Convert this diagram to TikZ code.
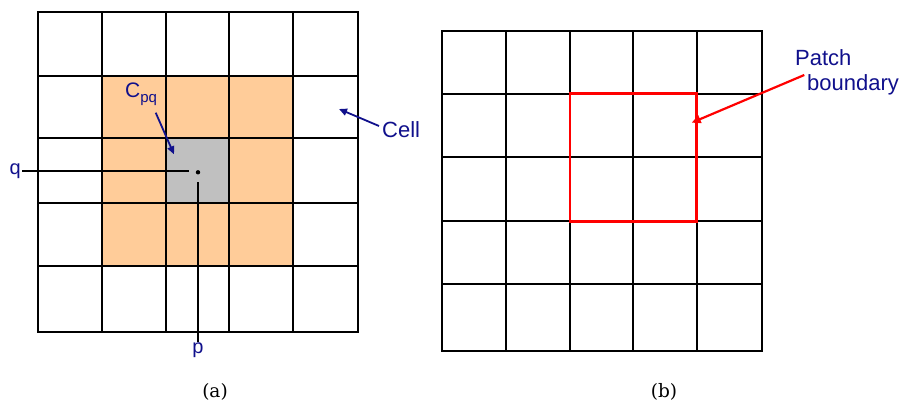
\documentclass[tikz,border=0pt]{standalone}
\usepackage{fontspec}
\newfontfamily\labfont{Liberation Sans}
\newfontfamily\capfont{DejaVu Serif}
\usetikzlibrary{arrows.meta}
\definecolor{cellorange}{RGB}{255,204,153}
\definecolor{cellgray}{RGB}{192,192,192}
\definecolor{labblue}{RGB}{16,16,140}
\definecolor{patchred}{RGB}{255,0,0}
\tikzset{
  gridline/.style={black, line width=2pt, line cap=rect},
  bluelab/.style={text=labblue, font=\labfont\fontsize{22}{24}\selectfont, inner sep=1pt},
  pqlab/.style={text=labblue, font=\labfont\fontsize{20}{22}\selectfont, inner sep=1pt},
  bluearrow/.style={draw=labblue, line width=1.8pt, -{Triangle[length=8pt,width=7pt]}},
  redarrow/.style={draw=patchred, line width=2.2pt, -{Triangle[length=9pt,width=8pt]}},
  thinline/.style={black, line width=1.8pt},
  captext/.style={inner sep=0pt}
}
\begin{document}
\begin{tikzpicture}[x=1pt,y=-1pt]
\useasboundingbox (0,0) rectangle (903,403);
% ---------- (a) ----------
\fill[cellorange] (101.7,75.7) rectangle (293,265.7);
\fill[cellgray] (166,138.3) rectangle (229.3,202.7);
\foreach \x in {38.3,101.7,166,229.3,293,358.3}
  \draw[gridline] (\x,11.7) -- (\x,332.3);
\foreach \y in {11.7,75.7,138.3,202.7,265.7,332.3}
  \draw[gridline] (38.3,\y) -- (358.3,\y);
\coordinate (dot) at (198,172.3);
\fill[black] (dot) circle (2.2pt);
\node[pqlab, anchor=east] (q) at (22,171) {q};
\node[pqlab, anchor=north] (p) at (198,342) {p};
\draw[thinline, shorten >=9pt] (q.east) -- (q.east -| dot) coordinate (qend);
\draw[thinline, shorten >=10pt] (p.north) -- (dot);
\node[text=labblue, inner sep=0pt, anchor=west] (cpq) at (125,94)
  {\labfont\fontsize{21}{22}\selectfont C\raisebox{-5pt}{\fontsize{15}{15}\selectfont pq}};
\coordinate (cpqtail) at (155.7,112.7);
\coordinate (cpqtip) at (174,154.3);
\draw[bluearrow] (cpqtail) -- (cpqtip);
\node[bluelab, anchor=west] (cell) at (381,130) {Cell};
\coordinate (celltip) at (339,109);
\draw[bluearrow] (cell.west) ++(-2pt,4pt) -- (celltip);
% ---------- (b) ----------
\foreach \x in {442.3,505.7,570,633.3,696.7,761.7}
  \draw[gridline] (\x,30.7) -- (\x,351);
\foreach \y in {30.7,93.7,157,221.3,284.3,351}
  \draw[gridline] (442.3,\y) -- (761.7,\y);
\node[draw=patchred, line width=2.5pt, inner sep=0pt, minimum width=126.7pt, minimum height=127.6pt] (patch) at (633.35,157.5) {};
\node[bluelab, anchor=west] (patchl) at (794,58) {Patch};
\node[bluelab, anchor=west] (boundl) at (806,85) {boundary};
\coordinate (redtail) at (804.3,75);
\coordinate (redtip) at (691.7,122.7);
\draw[redarrow] (redtail) -- (redtip);
% ---------- captions ----------
\node[captext] (capa) at (215,392) {\capfont\fontsize{18.5}{20}\selectfont (a)};
\node[captext] (capb) at (664,392) {\capfont\fontsize{18.5}{20}\selectfont (b)};
\end{tikzpicture}
\end{document}
